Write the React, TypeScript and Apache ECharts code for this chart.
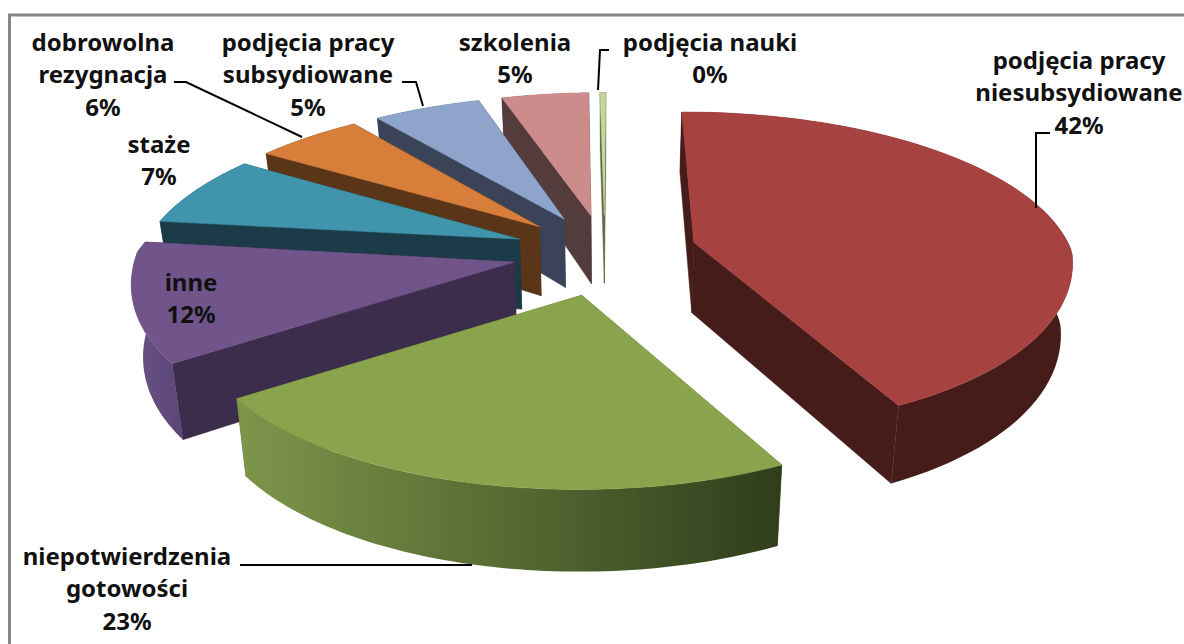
import React, { useEffect, useRef } from "react";
import * as echarts from "echarts";

const categories = [
  "podjęcia pracy\nniesubsydiowane",
  "niepotwierdzenia\ngotowości",
  "inne",
  "staże",
  "dobrowolna\nrezygnacja",
  "podjęcia pracy\nsubsydiowane",
  "szkolenia",
  "podjęcia nauki",
];
const percentLabels = ["42%", "23%", "12%", "7%", "6%", "5%", "5%", "0%"];
const sliceValues = [42.3, 23.7, 11.1, 7.2, 5.4, 5.5, 4.5, 0.3];
const topColors = ["#a64340", "#8aa44d", "#71558a", "#4094ab", "#d77e3b", "#8ea4cb", "#cd8c8c", "#c3d69b"];
const wallColors = ["#461c1a", "#5c7034", "#3d2d4c", "#1a3b47", "#5a3518", "#3a4358", "#553c3c", "#5f6a47"];
const outerFrom = ["#461c1a", "#7d964a", "#6a5285", "#1a3b47", "#5a3518", "#3a4358", "#553c3c", "#5f6a47"];
const outerTo = ["#461c1a", "#2f3d1b", "#5b4577", "#1a3b47", "#5a3518", "#3a4358", "#553c3c", "#5f6a47"];
const labelCentres = [
  [1079, 59], [127, 555], [191, 281], [159, 143], [103, 41], [308, 41], [515, 41], [710, 41],
];
const leaderLines = [
  [[1050, 133], [1036, 133], [1036, 208]],
  [[240, 565], [472, 565]],
  [[174, 82], [186, 82], [302, 137]],
  [[402, 82], [416, 82], [423, 106]],
  [[609, 50], [600, 50], [598, 90]],
];

const CX = 605, CY = 252, SCALE_X = 378, SCALE_Y_BACK = 157, SCALE_Y_FRONT = 180, HEIGHT = 71, EXPLODE = 0.245;
const ROT = -0.7;

function project(x: number, y: number, z: number): number[] {
  const qx = y > 0 ? 0.18 : 0.1;
  const qy = y > 0 ? 0.18 : 0.05;
  const qz = y > 0 ? 0.18 : 0.11;
  const scaleY = y > 0 ? SCALE_Y_BACK : SCALE_Y_FRONT;
  const shear = y > 0 ? 5 * y : 0;
  const sx = CX + ((SCALE_X * x) / (1 + qx * y)) * (1 + 0.025 * z) + shear;
  const sy = CY - (scaleY * y) / (1 + qy * y) - (HEIGHT * z) / (1 + qz * y);
  return [sx, sy];
}

const total = sliceValues.reduce((a, b) => a + b, 0);
const slices = (() => {
  let acc = 0;
  return sliceValues.map((v, i) => {
    const a0 = ((acc / total) * 360 + ROT) * (Math.PI / 180);
    acc += v;
    const a1 = ((acc / total) * 360 + ROT) * (Math.PI / 180);
    const mid = (a0 + a1) / 2;
    return { i, a0, a1, ox: Math.sin(mid) * EXPLODE, oy: Math.cos(mid) * EXPLODE };
  });
})();
const paintOrder = [...slices].sort((a, b) => b.oy - a.oy).map((s) => s.i);

function renderSlice(_: any, api: any) {
  const s = slices[api.value(0)];
  const steps = 72;
  const arc = (z: number) => {
    const out: number[][] = [];
    for (let k = 0; k <= steps; k++) {
      const a = s.a0 + ((s.a1 - s.a0) * k) / steps;
      out.push(project(s.ox + Math.sin(a), s.oy + Math.cos(a), z));
    }
    return out;
  };
  const top = arc(0);
  const bottom = arc(-1);
  const apexT = project(s.ox, s.oy, 0);
  const apexB = project(s.ox, s.oy, -1);
  const face = (points: number[][], fill: any) => ({
    type: "polygon",
    shape: { points },
    style: { fill, stroke: typeof fill === "string" ? fill : undefined, lineWidth: typeof fill === "string" ? 0.5 : 0 },
    silent: true,
  });
  const wall = wallColors[s.i];
  return {
    type: "group",
    children: [
      face([apexT, top[0], bottom[0], apexB], wall),
      face([apexT, top[steps], bottom[steps], apexB], wall),
      face(
        [...top, ...[...bottom].reverse()],
        new echarts.graphic.LinearGradient(0, 0, 1, 0, [
          { offset: 0, color: outerFrom[s.i] },
          { offset: 1, color: outerTo[s.i] },
        ])
      ),
      face([apexT, ...top], topColors[s.i]),
    ],
  };
}

const FONT = '"Noto Sans", sans-serif';
const LINE = 32.5;

function labelElements() {
  const out: any[] = [];
  categories.forEach((name, i) => {
    const lines = [...name.split("\n"), percentLabels[i]];
    lines.forEach((t, k) => {
      out.push({
        type: "text",
        x: labelCentres[i][0],
        y: labelCentres[i][1] + k * LINE,
        silent: true,
        style: {
          text: t,
          fill: "#111",
          font: `bold 24px ${FONT}`,
          textAlign: "center",
          textVerticalAlign: "middle",
        },
      });
    });
  });
  return out;
}

export default function App() {
  const ref = useRef<HTMLDivElement>(null);
  useEffect(() => {
    const chart = echarts.init(ref.current!, undefined, { renderer: "svg" });
    chart.setOption({
      animation: false,
      backgroundColor: "#ffffff",
      series: [
        {
          type: "custom",
          coordinateSystem: "none",
          clip: false,
          silent: true,
          data: paintOrder.map((i) => [i, sliceValues[i]]),
          renderItem: renderSlice,
          z: 1,
        },
      ],
      graphic: [
        { type: "polyline", silent: true, z: 10, shape: { points: [[9.5, 644], [9.5, 15], [1184, 15]] }, style: { stroke: "#868686", lineWidth: 3, fill: "none" } },
        ...leaderLines.map((points) => ({
          type: "polyline",
          silent: true,
          z: 10,
          shape: { points },
          style: { stroke: "#000", lineWidth: 2, fill: "none" },
        })),
        ...labelElements().map((e) => ({ ...e, z: 11 })),
      ],
    });
    return () => chart.dispose();
  }, []);
  return <div ref={ref} style={{ position: "fixed", left: 0, top: 0, width: 1184, height: 644 }} />;
}
